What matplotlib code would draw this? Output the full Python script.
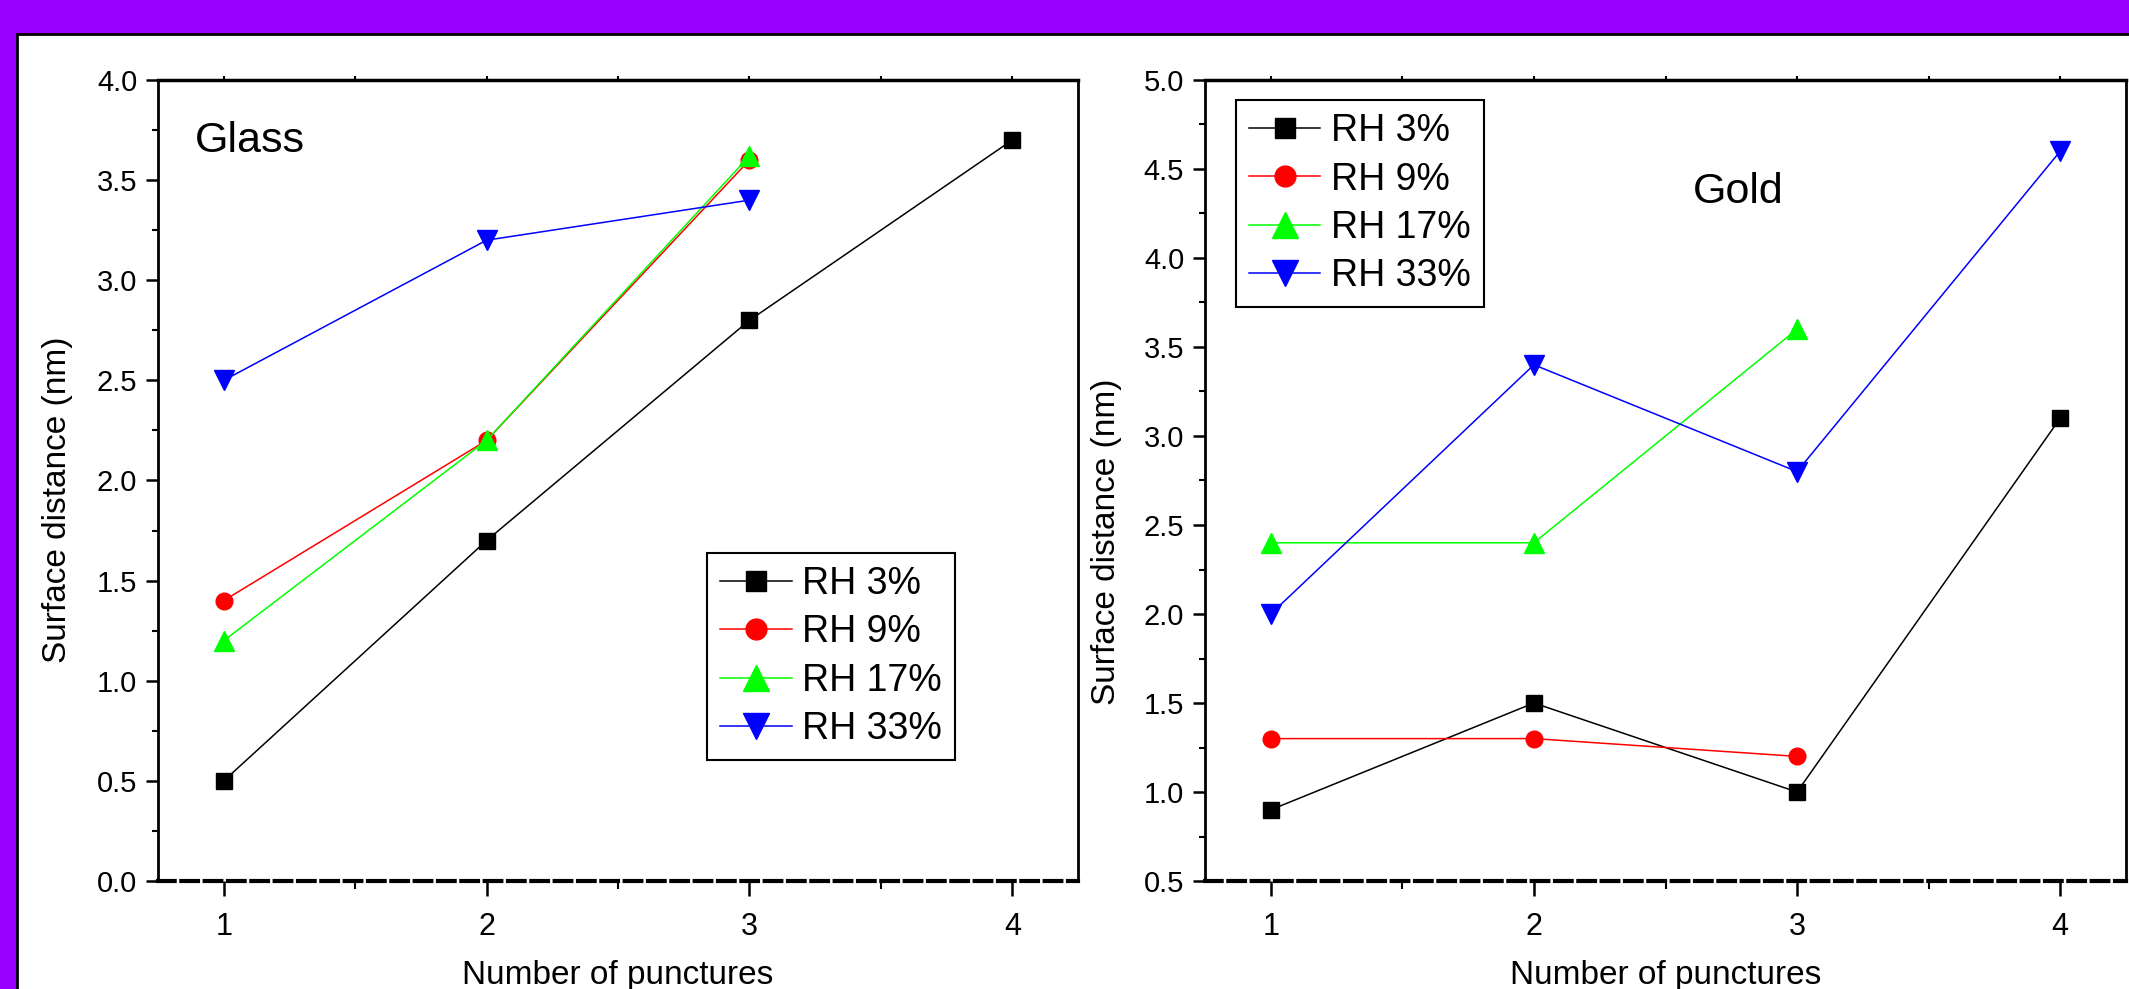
import numpy as np
import matplotlib
matplotlib.use("Agg")
import matplotlib.pyplot as plt
from matplotlib.patches import Rectangle
from matplotlib.ticker import MultipleLocator

plt.rcParams['font.family'] = ['Liberation Sans', 'DejaVu Sans']

# data
punctures = [1, 2, 3, 4]
labels = ['RH 3%', 'RH 9%', 'RH 17%', 'RH 33%']

glass_rh3 = [0.5, 1.7, 2.8, 3.7]
glass_rh9 = [1.4, 2.2, 3.6]
glass_rh17 = [1.2, 2.2, 3.62]
glass_rh33 = [2.5, 3.2, 3.4]

gold_rh3 = [0.9, 1.5, 1.0, 3.1]
gold_rh9 = [1.3, 1.3, 1.2]
gold_rh17 = [2.4, 2.4, 3.6]
gold_rh33 = [2.0, 3.4, 2.8, 4.6]

colors = ['black', '#ff0000', '#00ff00', '#0000ff']
markers = ['s', 'o', '^', 'v']
msizes = [11, 12, 15, 15]

fig = plt.figure(figsize=(21.29, 9.89), dpi=100)
fig.patch.set_facecolor('#9900ff')
# white panel with dark border
fig.patches.append(Rectangle((17 / 2129, -0.01), 1.0, (989 - 34) / 989 + 0.01,
                             transform=fig.transFigure, facecolor='white',
                             edgecolor='black', linewidth=2, zorder=-5))

legend_font = {'family': ['Liberation Sans Narrow', 'Liberation Sans'], 'size': 27}


def style_axes(ax, ylo, yhi):
    ax.set_xlim(0.75, 4.25)
    ax.set_ylim(ylo, yhi)
    ax.xaxis.set_major_locator(MultipleLocator(1))
    ax.xaxis.set_minor_locator(MultipleLocator(0.5))
    ax.yaxis.set_major_locator(MultipleLocator(0.5))
    ax.yaxis.set_minor_locator(MultipleLocator(0.25))
    ax.yaxis.set_major_formatter(plt.FormatStrFormatter('%.1f'))
    for s in ax.spines.values():
        s.set_linewidth(2)
    ax.spines['bottom'].set_linewidth(3)
    ax.spines['bottom'].set_linestyle((0, (4, 1.6)))
    ax.tick_params(axis='x', which='major', direction='out', length=11, width=1.8,
                   labelsize=22, pad=11)
    ax.tick_params(axis='x', which='minor', direction='out', length=6, width=1.5)
    ax.tick_params(axis='y', which='major', direction='out', length=9, width=1.8,
                   labelsize=21, pad=6)
    ax.tick_params(axis='y', which='minor', direction='out', length=4, width=1.5)
    ax.set_xlabel('Number of punctures', fontsize=24, labelpad=13)
    ax.set_ylabel('Surface distance (nm)', fontsize=24)
    # tiny ticks along the top edge
    top = ax.secondary_xaxis('top')
    top.xaxis.set_major_locator(MultipleLocator(0.5))
    top.tick_params(direction='out', length=3, width=1.5, labeltop=False)
    top.spines['top'].set_linewidth(2.5)


def add_legend(ax, anchor):
    leg = ax.legend(loc='upper left', bbox_to_anchor=anchor, borderaxespad=0,
                    prop=legend_font, markerscale=1.25, handlelength=1.9,
                    handletextpad=0.28, borderpad=0.35, labelspacing=0.33,
                    fancybox=False, edgecolor='black', framealpha=1)
    leg.get_frame().set_linewidth(1.5)


# left panel: glass
ax1 = fig.add_axes([158 / 2129, 108 / 989, 920 / 2129, 801 / 989])
glass = [glass_rh3, glass_rh9, glass_rh17, glass_rh33]
for vals, c, m, ms, lab in zip(glass, colors, markers, msizes, labels):
    ax1.plot(punctures[:len(vals)], vals, color=c, marker=m, markersize=ms,
             linewidth=1.1, label=lab)
style_axes(ax1, 0.0, 4.0)
ax1.yaxis.set_label_coords(-0.092, 0.476)
ax1.text(0.040, 0.910, 'Glass', transform=ax1.transAxes, fontsize=31, va='baseline')
add_legend(ax1, (0.597, 0.4095))

# right panel: gold
ax2 = fig.add_axes([1205 / 2129, 108 / 989, 921 / 2129, 801 / 989])
gold = [gold_rh3, gold_rh9, gold_rh17, gold_rh33]
for vals, c, m, ms, lab in zip(gold, colors, markers, msizes, labels):
    ax2.plot(punctures[:len(vals)], vals, color=c, marker=m, markersize=ms,
             linewidth=1.1, label=lab)
style_axes(ax2, 0.5, 5.0)
ax2.yaxis.set_label_coords(-0.090, 0.423)
ax2.text(0.530, 0.846, 'Gold', transform=ax2.transAxes, fontsize=31, va='baseline')
add_legend(ax2, (0.0337, 0.975))

fig.savefig('out.png', dpi=100, facecolor=fig.get_facecolor())
